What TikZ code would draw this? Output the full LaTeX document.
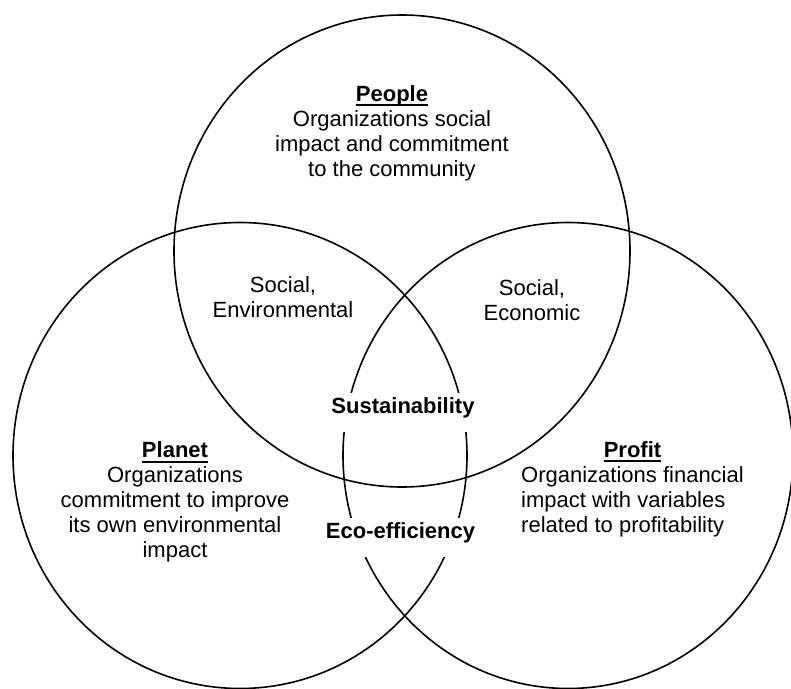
\documentclass[tikz,border=0pt]{standalone}
\usepackage{fontspec}
\setmainfont{Liberation Sans}
\usetikzlibrary{positioning}

\newsavebox{\headbox}
\newcommand{\headul}[1]{\sbox{\headbox}{\textbf{#1}}\rlap{\rule[-5pt]{\wd\headbox}{2pt}}\usebox{\headbox}}

\begin{document}
\begin{tikzpicture}[x=1pt,y=-1pt,font=\fontsize{22}{25}\selectfont,
	ring/.style={line width=1.6pt},
	txt/.style={align=center,inner sep=0pt},
	core/.style={fill=white,font=\fontsize{22}{25}\selectfont\bfseries,text height=16pt,text depth=15pt,inner xsep=4pt,inner ysep=4pt}]
	\useasboundingbox (0,0) rectangle (791,688);

	% the three circles
	\draw[ring] (402,251) ellipse [x radius=228,y radius=236];
	\draw[ring] (240,455.5) ellipse [x radius=227,y radius=233];
	\draw[ring] (568,455.5) ellipse [x radius=225,y radius=233];

	\node[txt] (people) at (392,133) {\headul{People}\\Organizations social\\impact and commitment\\to the community};
	\node[txt] (planet) at (175,502) {\headul{Planet}\\Organizations\\commitment to improve\\its own environmental\\impact};
	\node[inner sep=0pt] (profit) at (632.5,489.5) {\begin{tabular}{@{}l@{}}\multicolumn{1}{@{}c@{}}{\headul{Profit}}\\Organizations financial\\impact with variables\\related to profitability\end{tabular}};

	\node[txt] (socenv) at (283,297.5) {Social,\\Environmental};
	\node[txt] (soceco) at (532,300.5) {Social,\\Economic};

	\node[core] (sust) at (403,412.5) {Sustainability};
	\node[core] (eco) at (400.5,537.5) {Eco-efficiency};
\end{tikzpicture}
\end{document}
